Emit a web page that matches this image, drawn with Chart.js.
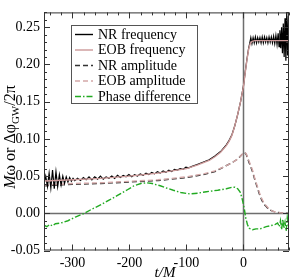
<!DOCTYPE html>
<html>
<head>
<meta charset="utf-8">
<script src="https://cdn.jsdelivr.net/npm/chart.js@4"></script>
<style>
  html, body { margin: 0; padding: 0; background: #fff; }
  #wrap { width: 291px; height: 279px; position: relative; }
</style>
</head>
<body>
<div id="wrap"><canvas id="chart"></canvas></div>
<script>
// --- Data ---
const X_MIN = -350, X_MAX = 80;
const Y_MIN = -0.05, Y_MAX = 0.27;
const X_LABELS = [-300, -200, -100, 0];
const Y_LABELS = [-0.05, 0.00, 0.05, 0.10, 0.15, 0.20, 0.25];

const nrFreqT = [-350,-347,-344,-341,-338,-335,-332,-329,-326,-323,-320,-317,-314,-311,-308,-305,-302,-299,-296,
  -291,-286,-281,-276,-271,-266,-261,-256,-251,-246,-241,-236,-231,-226,-221,-216,-211,-206,-201,-196,-191,-186,
  -181,-176,-171,-166,-161,-156,-151,-146,-141,-136,-131,-126,-121,-116,-111,-106,-101,-96,
  -90,-80,-70,-60,-50,-40,-30,-25,-20,-15,-10,-5,0,3,6,9,11,
  13,15,17,19,21,23,25,27,29,31,33,35,37,39,41,43,45,47,49,51,53,55,57,59,61,62.5,64,65.5,67,68.5,70,71.5,73,74.5,76,77.5,79,80];
const nrFreqV = [0.040,0.050,0.036,0.054,0.034,0.058,0.033,0.056,0.036,0.052,0.038,0.050,0.040,0.049,0.042,0.048,0.043,0.047,0.044,
  0.047,0.044,0.048,0.045,0.049,0.045,0.049,0.046,0.050,0.046,0.049,0.047,0.050,0.047,0.051,0.048,0.051,0.049,0.052,0.049,0.052,0.050,
  0.053,0.051,0.054,0.052,0.055,0.053,0.056,0.054,0.057,0.055,0.058,0.056,0.059,0.058,0.060,0.059,0.062,0.061,
  0.063,0.066,0.069,0.072,0.077,0.083,0.092,0.098,0.106,0.118,0.133,0.150,0.171,0.189,0.206,0.221,0.228,
  0.236,0.228,0.236,0.229,0.237,0.229,0.236,0.230,0.236,0.229,0.237,0.229,0.237,0.230,0.236,0.229,0.237,0.230,0.237,0.229,0.238,0.228,0.239,0.227,
  0.242,0.224,0.246,0.222,0.250,0.215,0.255,0.210,0.262,0.205,0.270,0.212,0.265,0.230];

const eobFreqT = [-350,-300,-250,-200,-150,-100,-80,-60,-50,-40,-30,-25,-20,-15,-10,-5,0,3,6,9,12,15,20,30,80];
const eobFreqV = [0.0435,0.045,0.047,0.050,0.054,0.060,0.065,0.071,0.076,0.082,0.091,0.097,0.105,0.118,0.133,0.150,0.170,0.188,0.205,0.220,0.228,0.231,0.232,0.232,0.232];

const nrAmpT = [-350,-300,-250,-200,-150,-100,-70,-50,-30,-20,-10,-5,0,2,5,10,16,20,25,28,32,36,40,45,51,60,80];
const nrAmpV = [0.037,0.039,0.040,0.042,0.044,0.048,0.052,0.056,0.064,0.068,0.073,0.077,0.081,0.082,0.079,0.068,0.056,0.045,0.033,0.026,0.018,0.012,0.009,0.005,0.003,0.001,0.000];

const eobAmpT = [-350,-300,-250,-200,-150,-100,-70,-50,-30,-20,-10,-5,0,2,5,10,16,20,25,28,32,36,40,45,51,60,80];
const eobAmpV = [0.038,0.040,0.041,0.043,0.045,0.049,0.053,0.057,0.064,0.068,0.073,0.077,0.081,0.082,0.080,0.070,0.058,0.047,0.035,0.028,0.020,0.014,0.010,0.006,0.003,0.001,0.000];

const phaseT = [-350,-345,-340,-335,-330,-320,-308,-295,-279,-265,-250,-235,-221,-205,-192,-180,-170,-160,-146,-135,-123,-110,-94,-80,-65,-45,-30,-20,-15,-10,-6,-3,0,2,4,7,10,16,22,28,33,40,46,51,56,60,63,65,67,69,71,73,75,77,79,80];
const phaseV = [-0.016,-0.018,-0.015,-0.017,-0.014,-0.013,-0.010,-0.005,0.000,0.006,0.0115,0.018,0.024,0.031,0.037,0.040,0.041,0.040,0.037,0.034,0.031,0.028,0.026,0.027,0.029,0.031,0.033,0.035,0.035,0.033,0.029,0.022,0.012,0.004,-0.006,-0.015,-0.020,-0.022,-0.021,-0.021,-0.020,-0.018,-0.017,-0.016,-0.015,-0.013,-0.018,-0.010,-0.022,-0.008,-0.020,-0.012,-0.024,-0.006,-0.018,-0.012];

const LABELS = ['NR frequency', 'EOB frequency', 'NR amplitude', 'EOB amplitude', 'Phase difference'];
const COLORS = ['#000000', '#cc9999', '#333333', '#d4a8a8', '#22aa22'];
const DASHES = [[], [], [5, 3], [5, 3], [6, 2, 1.5, 2]];

const FONT = "'Liberation Serif'";

function zip(ts, vs) { return ts.map((t, i) => ({ x: t, y: vs[i] })); }

// draw order: amplitudes & phase under frequencies
const series = [
  { i: 2, data: zip(nrAmpT, nrAmpV), order: 4 },
  { i: 3, data: zip(eobAmpT, eobAmpV), order: 3 },
  { i: 4, data: zip(phaseT, phaseV), order: 5 },
  { i: 0, data: zip(nrFreqT, nrFreqV), order: 2 },
  { i: 1, data: zip(eobFreqT, eobFreqV), order: 1 }
];

const datasets = series.map(s => ({
  label: LABELS[s.i],
  data: s.data,
  borderColor: COLORS[s.i],
  borderWidth: s.i === 0 ? 1.2 : 1.4,
  borderDash: DASHES[s.i],
  pointRadius: 0,
  fill: false,
  tension: 0,
  order: s.order
}));

// --- Frame, inward ticks, zero lines, legend and titles ---
const framePlugin = {
  id: 'frame',
  beforeDatasetsDraw(chart) {
    const { ctx, chartArea: a, scales: { x, y } } = chart;
    ctx.save();
    ctx.strokeStyle = '#6e6e6e';
    ctx.lineWidth = 1.5;
    const y0 = Math.round(y.getPixelForValue(0)) + 0.5;
    const x0 = Math.round(x.getPixelForValue(0)) + 0.5;
    ctx.beginPath();
    ctx.moveTo(a.left, y0); ctx.lineTo(a.right, y0);
    ctx.moveTo(x0, a.top); ctx.lineTo(x0, a.bottom);
    ctx.stroke();
    ctx.restore();
  },
  afterDraw(chart) {
    const { ctx, chartArea: a, scales: { x, y } } = chart;
    ctx.save();
    ctx.strokeStyle = '#333';
    ctx.lineWidth = 1;
    ctx.strokeRect(a.left + 0.5, a.top + 0.5, a.right - a.left - 1, a.bottom - a.top - 1);

    // ticks every 20 on x (major 100), every 0.01 on y (major 0.05)
    ctx.beginPath();
    for (let t = -340; t <= 80; t += 20) {
      const px = Math.round(x.getPixelForValue(t)) + 0.5;
      const len = t % 100 === 0 ? 6 : 3;
      ctx.moveTo(px, a.bottom); ctx.lineTo(px, a.bottom - len);
      ctx.moveTo(px, a.top); ctx.lineTo(px, a.top + len);
    }
    for (let k = -5; k <= 27; k++) {
      const py = Math.round(y.getPixelForValue(k / 100)) + 0.5;
      const len = k % 5 === 0 ? 6 : 3;
      ctx.moveTo(a.left, py); ctx.lineTo(a.left + len, py);
      ctx.moveTo(a.right, py); ctx.lineTo(a.right - len, py);
    }
    ctx.stroke();

    // legend box
    const lx = 71, ly = 25, lw = 126, lh = 78;
    ctx.fillStyle = '#fff';
    ctx.fillRect(lx, ly, lw, lh);
    ctx.strokeStyle = '#555';
    ctx.strokeRect(lx + 0.5, ly + 0.5, lw, lh);
    ctx.font = '14px ' + FONT;
    ctx.textBaseline = 'middle';
    ctx.fillStyle = '#000';
    LABELS.forEach((lab, i) => {
      const ry = ly + 9.5 + i * 15.5;
      ctx.save();
      ctx.strokeStyle = COLORS[i];
      ctx.lineWidth = 1.4;
      ctx.setLineDash(DASHES[i]);
      ctx.beginPath();
      ctx.moveTo(75, ry); ctx.lineTo(93, ry);
      ctx.stroke();
      ctx.restore();
      ctx.fillText(lab, 98, ry + 0.5);
    });

    // x title
    ctx.textBaseline = 'alphabetic';
    ctx.font = 'italic 15px ' + FONT;
    const xt = 't/M';
    ctx.fillText(xt, 165 - ctx.measureText(xt).width / 2, 277);

    // y title with subscript, rotated
    const parts = [
      { s: 'M', f: 'italic 16px ' + FONT, dy: 0 },
      { s: 'ω or Δφ', f: '16px ' + FONT, dy: 0 },
      { s: 'GW', f: '11px ' + FONT, dy: 4 },
      { s: '/2π', f: '16px ' + FONT, dy: 0 }
    ];
    let total = 0;
    parts.forEach(p => { ctx.font = p.f; p.w = ctx.measureText(p.s).width; total += p.w; });
    ctx.translate(15, 137);
    ctx.rotate(-Math.PI / 2);
    let cx = -total / 2;
    parts.forEach(p => { ctx.font = p.f; ctx.fillText(p.s, cx, p.dy); cx += p.w; });
    ctx.restore();
  }
};

new Chart(document.getElementById('chart'), {
  type: 'line',
  data: { datasets },
  options: {
    responsive: true,
    maintainAspectRatio: false,
    animation: false,
    layout: { padding: { top: 1, right: 2, left: 0, bottom: 0 } },
    plugins: { legend: { display: false }, tooltip: { enabled: false } },
    scales: {
      x: {
        type: 'linear',
        min: X_MIN, max: X_MAX,
        grid: { display: false, drawTicks: false },
        border: { display: false },
        afterFit: s => { s.height = 28.5; },
        afterBuildTicks: s => { s.ticks = X_LABELS.map(v => ({ value: v })); },
        ticks: {
          autoSkip: false, maxRotation: 0, padding: 4, color: '#000',
          font: { family: FONT, size: 14 },
          callback: v => String(v)
        }
      },
      y: {
        type: 'linear',
        min: Y_MIN, max: Y_MAX,
        grid: { display: false, drawTicks: false },
        border: { display: false },
        afterFit: s => { s.width = 44; },
        afterBuildTicks: s => { s.ticks = Y_LABELS.map(v => ({ value: v })); },
        ticks: {
          autoSkip: false, padding: 4, color: '#000',
          font: { family: FONT, size: 14 },
          callback: v => v.toFixed(2)
        }
      }
    }
  },
  plugins: [framePlugin]
});
</script>
</body>
</html>
